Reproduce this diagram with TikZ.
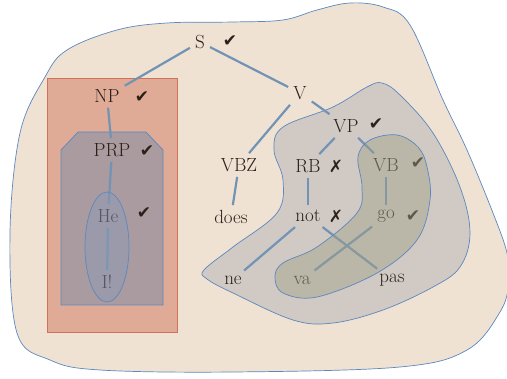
\documentclass[tikz,border=0pt]{standalone}
\usepackage{fontspec}
\newfontfamily\symfont{DejaVu Sans}
\usetikzlibrary{calc}

\definecolor{beige}{HTML}{F0E2D3}
\definecolor{salmon}{HTML}{DFAB97}
\definecolor{salmonline}{HTML}{D2705A}
\definecolor{prpfill}{HTML}{A99B9F}
\definecolor{vpfill}{HTML}{D1C9C3}
\definecolor{vbfill}{HTML}{9F9F88}
\definecolor{hefill}{HTML}{8A9AB8}
\definecolor{outline}{HTML}{5A88C0}
\definecolor{branch}{HTML}{7193B5}
\definecolor{ink}{HTML}{2B2118}

\tikzset{
  word/.style={text=ink, inner sep=5pt, font=\fontsize{19}{21}\selectfont},
  tick/.style={text=ink, inner sep=1pt, font=\symfont\fontsize{17}{19}\selectfont},
  edge/.style={draw=branch, line width=2.2pt},
  region/.style={draw=outline, line width=0.7pt}
}

\begin{document}
\begin{tikzpicture}[x=1pt, y=-1pt]
\useasboundingbox (0,0) rectangle (507,379);

% regions behind the tree
\path[region, fill=beige] plot[smooth cycle, tension=0.6] coordinates {
  (45,77) (67,50) (117,30) (167,23) (233,22) (283,20) (317,10) (350,3)
  (383,7) (410,25) (443,100) (467,150) (493,213) (507,253) (509,282)
  (500,312) (467,350) (400,367) (233,372) (100,370) (50,360) (17,333)
  (10,233) (20,133)};
\draw[draw=salmonline, fill=salmon, line width=0.7pt] (47,78) rectangle (177,332);
\draw[region, fill=prpfill] (61,305) -- (61,150) -- (78,132) -- (146,132)
  -- (163,150) -- (163,305) -- cycle;
\path[region, fill=vpfill] plot[smooth cycle, tension=0.6] coordinates {
  (204,270) (233,247) (277,213) (283,180) (274,150) (283,127) (333,107)
  (367,87) (382,83) (400,95) (433,133) (460,187) (470,233) (460,267)
  (433,287) (383,310) (333,323) (293,320) (233,293) (207,279)};

% the tree
\foreach \x/\y/\name/\txt in {200/42/S/S, 107/96/NP/NP, 112/150/PRP/PRP,
    108/216/He/He, 107/282/I/I!, 300/93/V/V, 346/126/VP/VP, 239/165/VBZ/VBZ,
    308/166/RB/RB, 386/165/VB/VB, 231/217/does/does, 308/216/not/not,
    386/216/go/go, 233/280/ne/ne, 302/280/va/va, 392/280/pas/pas} {
    \node[word] (\name) at (\x,\y) {\txt};
}

\foreach \x/\y/\name/\sym in {230/41/S/✔, 142/97/NP/✔, 147/151/PRP/✔,
    144/213/He/✔, 376/124/VP/✔, 336/166/RB/✗, 418/163/VB/✔,
    336/216/not/✗, 413/216/go/✔} {
    \node[tick] (\name-mark) at (\x,\y) {\sym};
}

\foreach \a/\b in {S/NP, S/V, NP/PRP, PRP/He, He/I, V/VBZ, V/VP, VP/RB,
    VP/VB, VBZ/does, RB/not, VB/go, not/ne, not/pas, go/va} {
    \draw[edge] (\a) -- (\b);
}

% regions laid over the tree
\path[region, fill=hefill, fill opacity=0.45] (107,247) ellipse (22 and 55);
\path[region, fill=vbfill, fill opacity=0.45] plot[smooth cycle, tension=0.6] coordinates {
  (397,135) (418,147) (427,167) (430,200) (417,240) (377,273) (317,297)
  (283,293) (275,277) (283,263) (317,247) (357,213) (362,187) (358,157)
  (370,140)};
\end{tikzpicture}
\end{document}
